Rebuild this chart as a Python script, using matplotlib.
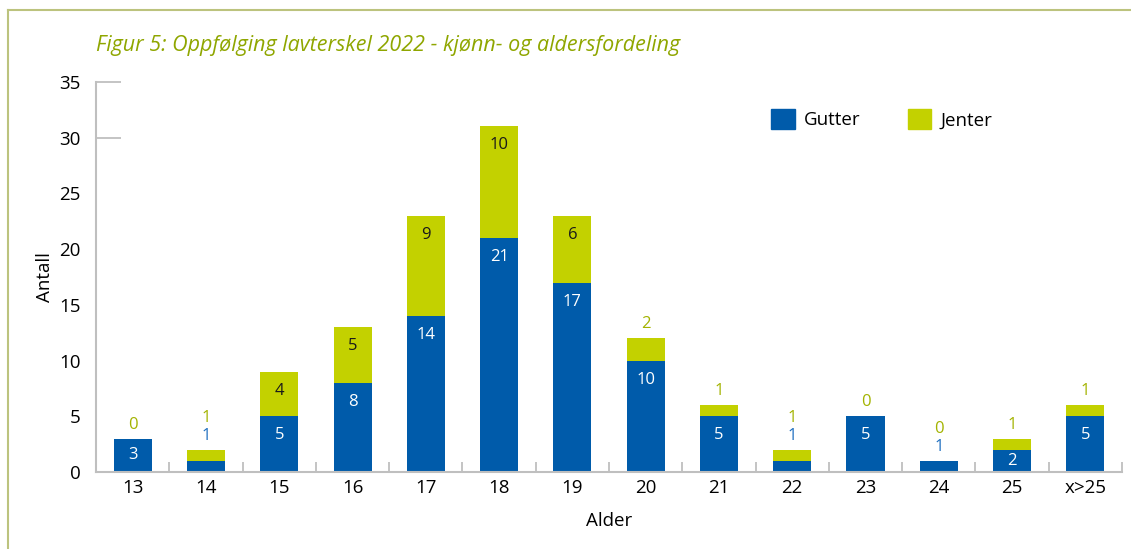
import matplotlib.pyplot as plt
from matplotlib.lines import Line2D
from matplotlib.patches import Patch

plt.rcParams['font.family'] = ['Open Sans', 'DejaVu Sans']

# data
alder = ['13', '14', '15', '16', '17', '18', '19', '20', '21', '22', '23', '24', '25', 'x>25']
gutter = [3, 1, 5, 8, 14, 21, 17, 10, 5, 1, 5, 1, 2, 5]
jenter = [0, 1, 4, 5, 9, 10, 6, 2, 1, 1, 0, 0, 1, 1]

blue = '#005BAA'
green = '#C3D100'
blue_txt = '#1F6FC0'
green_txt = '#A3B300'
grey = '#BFBFBF'

fig = plt.figure(figsize=(11.31, 5.49), dpi=100)
ax = fig.add_axes([0.085, 0.14, 0.907, 0.711])

x = list(range(len(alder)))
ax.bar(x, gutter, width=0.52, color=blue, label='Gutter')
ax.bar(x, jenter, width=0.52, bottom=gutter, color=green, label='Jenter')

# datalabels
for i in x:
    g, j = gutter[i], jenter[i]
    top = g + j
    n_out = 0
    if g >= 2:
        ax.text(i, g - min(1.7, g / 2), str(g), ha='center', va='center',
                color='white', fontsize=12)
    else:
        ax.annotate(str(g), (i, top), xytext=(0, 10), textcoords='offset points',
                    ha='center', va='center', color=blue_txt, fontsize=12)
        n_out += 1
    if j >= 3:
        ax.text(i, top - min(1.7, j / 2), str(j), ha='center', va='center',
                color='#1a1a1a', fontsize=12)
    else:
        ax.annotate(str(j), (i, top), xytext=(0, 10 + 13 * n_out), textcoords='offset points',
                    ha='center', va='center', color=green_txt, fontsize=12)

ax.set_xlim(-0.5, len(alder) - 0.5)
ax.set_ylim(0, 35)
ax.set_yticks(range(0, 36, 5))
ax.set_xticks(x)
ax.set_xticklabels(alder)
ax.set_xticks([k - 0.5 for k in range(len(alder) + 1)], minor=True)

ax.tick_params(axis='x', which='major', length=0, labelsize=13.5, pad=5)
ax.tick_params(axis='x', which='minor', direction='in', length=7, width=1.3, color=grey)
ax.tick_params(axis='y', direction='in', length=18, width=1.3, color=grey, labelsize=13.5, pad=11)
for t in ax.yaxis.get_major_ticks()[:6]:
    t.tick1line.set_visible(False)

for s in ['top', 'right']:
    ax.spines[s].set_visible(False)
for s in ['left', 'bottom']:
    ax.spines[s].set_color(grey)
    ax.spines[s].set_linewidth(1.5)

ax.set_ylabel('Antall', fontsize=13.5, labelpad=4)
ax.set_xlabel('Alder', fontsize=13.5, labelpad=11)

handles = [Patch(color=blue, label='Gutter'), Patch(color=green, label='Jenter')]
fig.legend(handles=handles, loc='upper left', bbox_to_anchor=(0.667, 0.832), ncol=2,
           frameon=False, fontsize=13.5, handlelength=1.25, handleheight=1.25,
           columnspacing=2.5, handletextpad=0.5)

fig.text(0.085, 0.918, 'Figur 5: Oppfølging lavterskel 2022 - kjønn- og aldersfordeling',
         color='#8FA600', style='italic', fontsize=15.5, va='center')

# ramme
frame = '#BCC37E'
fig.add_artist(Line2D([0.0075, 0.0075], [0, 0.982], color=frame, lw=1.5))
fig.add_artist(Line2D([0.0075, 1], [0.982, 0.982], color=frame, lw=1.5))

fig.savefig('out.png', dpi=100)
